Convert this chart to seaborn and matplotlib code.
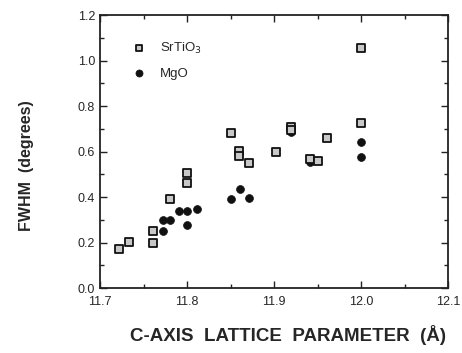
import matplotlib
matplotlib.use("Agg")
from matplotlib import pyplot as plt
from matplotlib.ticker import MultipleLocator
import seaborn as sns
import pandas as pd

# SrTiO3 substrate
srtio3_c = [11.722, 11.733, 11.761, 11.761, 11.781, 11.800, 11.800, 11.851,
            11.860, 11.860, 11.871, 11.902, 11.920, 11.920, 11.941, 11.951,
            11.961, 12.000, 12.000]
srtio3_fwhm = [0.170, 0.204, 0.252, 0.196, 0.393, 0.504, 0.463, 0.683,
               0.602, 0.582, 0.551, 0.598, 0.708, 0.695, 0.565, 0.558,
               0.658, 1.054, 0.724]

# MgO substrate
mgo_c = [11.772, 11.772, 11.781, 11.791, 11.800, 11.800, 11.812, 11.851,
         11.861, 11.871, 11.920, 11.941, 12.000, 12.000]
mgo_fwhm = [0.299, 0.252, 0.299, 0.340, 0.340, 0.277, 0.346, 0.391,
            0.435, 0.396, 0.685, 0.554, 0.643, 0.577]

df_s = pd.DataFrame({"c": srtio3_c, "fwhm": srtio3_fwhm})
df_m = pd.DataFrame({"c": mgo_c, "fwhm": mgo_fwhm})

sns.set_style("ticks")
plt.rcParams['font.family'] = ['Liberation Sans', 'DejaVu Sans']

fig = plt.figure(figsize=(4.62, 3.53), dpi=100)
ax = fig.add_axes([0.2165, 0.184, 0.7532, 0.7735])

sns.scatterplot(data=df_m, x="c", y="fwhm", ax=ax, marker="o", s=32,
                color="#111111", edgecolor="#111111", linewidth=0.5,
                label="MgO", zorder=3)
sns.scatterplot(data=df_s, x="c", y="fwhm", ax=ax, marker="s", s=26,
                color="#c8c8c8", edgecolor="#111111", linewidth=1.3,
                label="SrTiO$_3$", zorder=4)

ax.set_xlim(11.7, 12.1)
ax.set_ylim(0.0, 1.2)
ax.xaxis.set_major_locator(MultipleLocator(0.1))
ax.xaxis.set_minor_locator(MultipleLocator(0.05))
ax.yaxis.set_major_locator(MultipleLocator(0.2))
ax.yaxis.set_minor_locator(MultipleLocator(0.1))
ax.xaxis.set_major_formatter(matplotlib.ticker.FormatStrFormatter('%.1f'))
ax.yaxis.set_major_formatter(matplotlib.ticker.FormatStrFormatter('%.1f'))
ax.tick_params(which='both', direction='in', top=True, right=True,
               labelsize=9, color='#222222')
ax.tick_params(which='major', length=5, width=1)
ax.tick_params(which='minor', length=3, width=1)
ax.tick_params(axis='x', pad=6)
for sp in ax.spines.values():
    sp.set_linewidth(1.3)
    sp.set_color('#222222')

ax.set_xlabel("C-AXIS  LATTICE  PARAMETER  (Å)", fontsize=13.5,
              fontweight='bold')
ax.xaxis.set_label_coords(0.54, -0.135)
ax.set_ylabel("FWHM  (degrees)", fontsize=11.5, fontweight='bold')
ax.yaxis.set_label_coords(-0.19, 0.45)

handles, labels = ax.get_legend_handles_labels()
ax.legend(handles[::-1], labels[::-1], loc='upper left', frameon=False,
          bbox_to_anchor=(0.04, 0.95), fontsize=9.5, handletextpad=0.6,
          labelspacing=0.9, markerscale=0.9)

fig.savefig("out.png", dpi=100)
